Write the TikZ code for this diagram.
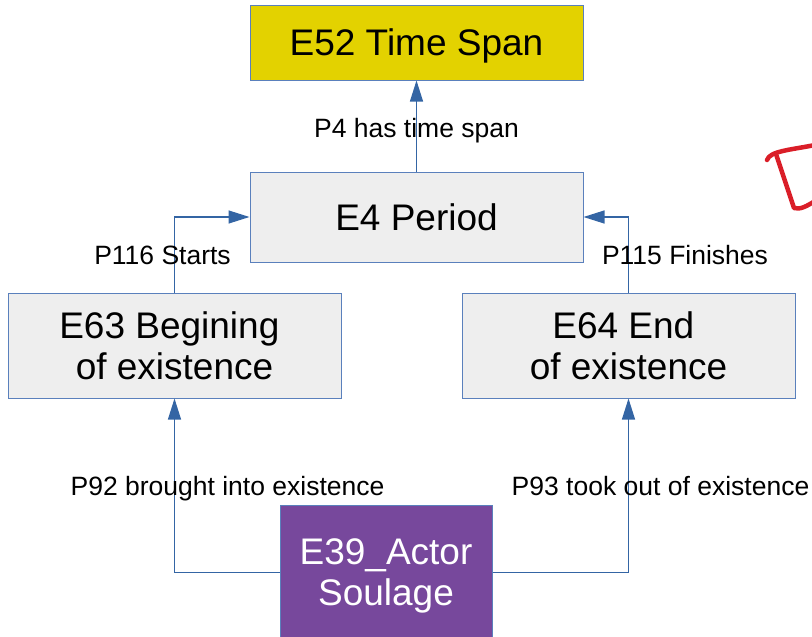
\documentclass[tikz,border=0pt]{standalone}
\usepackage{fontspec}
\setmainfont{Liberation Sans}
\usetikzlibrary{arrows.meta}

\definecolor{linkblue}{HTML}{3465A4}
\definecolor{boxline}{HTML}{5A80BC}
\definecolor{spanfill}{HTML}{E3D200}
\definecolor{eventfill}{HTML}{EEEEEE}
\definecolor{actorfill}{HTML}{77489C}
\definecolor{markred}{HTML}{DA1E28}

\tikzstyle{entity}=[draw=boxline, line width=1pt, fill=eventfill, align=center, minimum width=333pt, inner sep=0pt, font=\fontsize{37}{41}\selectfont]
\tikzstyle{prop}=[anchor=base, inner sep=0pt, font=\fontsize{26.5}{30}\selectfont]
\tikzstyle{link}=[draw=linkblue, line width=1.2pt, -{Triangle[length=21pt,width=13pt]}]

\begin{document}
\begin{tikzpicture}[x=1pt,y=-1pt]
\useasboundingbox (0,0) rectangle (812,637);

% classes
\node[entity, fill=spanfill, minimum height=75pt, text depth=0pt] (timespan) at (416.5,42.5) {E52 Time Span};
\node[entity, minimum height=90pt] (period) at (416.5,217) {E4 Period};
\node[entity, minimum height=105pt] (begin) at (174.5,345.5) {E63 Begining\ \mbox{}\\of existence};
\node[entity, minimum height=105pt] (end) at (628.5,345.5) {E64 End\ \mbox{}\\of existence};
\node[entity, fill=actorfill, text=white, minimum width=212pt, minimum height=135pt, text depth=0pt] (actor) at (386,572.5) {E39\_Actor\\Soulage};

% properties
\draw[link] (period.north) -- (timespan.south);
\draw[link] (begin.north) |- (period.west);
\draw[link] (end.north) |- (period.east);
\draw[link] (actor.west) -| (begin.south);
\draw[link] (actor.east) -| (end.south);

\node[prop] (p4) at (416.5,137) {P4 has time span};
\node[prop] (p116) at (162.5,264) {P116 Starts};
\node[prop] (p115) at (685,264) {P115 Finishes};
\node[prop] (p92) at (227.5,495) {P92 brought into existence};
\node[prop] (p93) at (660.5,495) {P93 took out of existence};

% red mark
\begin{scope}
\clip (0,0) rectangle (812,637);
\draw[markred, line width=4.5pt, line cap=round, line join=round]
  (767,160) .. controls (770,151) and (790,150) .. (815,145);
\draw[markred, line width=4.5pt, line cap=round, line join=round]
  (776,154) -- (794,208) .. controls (800,210) and (807,206) .. (815,201);
\end{scope}

\end{tikzpicture}
\end{document}
